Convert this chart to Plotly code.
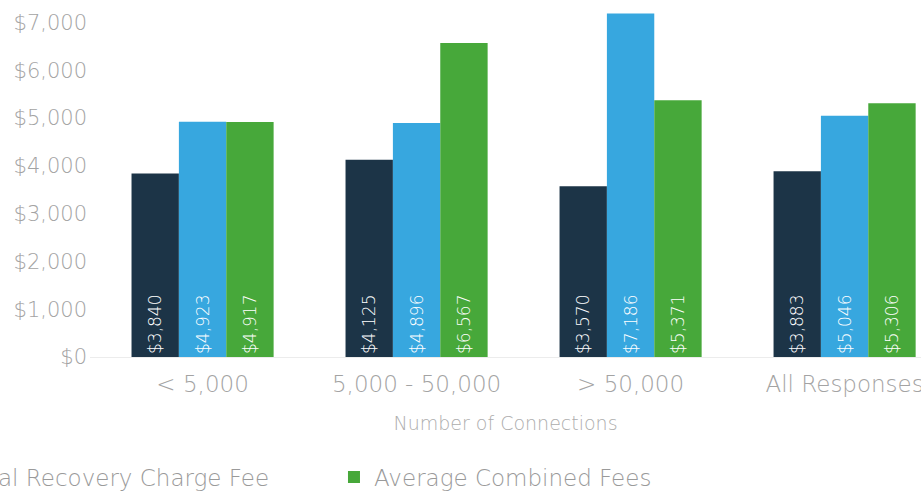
import plotly.graph_objects as go

categories = ["< 5,000", "5,000 - 50,000", "> 50,000", "All Responses"]
connection_fee = [3840, 4125, 3570, 3883]
capital_recovery_fee = [4923, 4896, 7186, 5046]
combined_fees = [4917, 6567, 5371, 5306]
series_names = ["Average Connection Fee", "Average Capital Recovery Charge Fee", "Average Combined Fees"]
y_ticks = [0, 1000, 2000, 3000, 4000, 5000, 6000, 7000]
y_tick_labels = ["$0", "$1,000", "$2,000", "$3,000", "$4,000", "$5,000", "$6,000", "$7,000"]
colors = ["#1c3447", "#37a7df", "#47a83a"]
legend_ids = ["legend", "legend2", "legend3"]

FONT = "DejaVu Sans"

fig = go.Figure()
for name, vals, col, lg in zip(series_names, [connection_fee, capital_recovery_fee, combined_fees], colors, legend_ids):
    fig.add_trace(go.Bar(
        x=categories, y=vals, name=name, marker_color=col, marker_line_width=0, legend=lg,
        text=[f"${v:,}" for v in vals], textposition="inside", textangle=-90,
        insidetextanchor="start", insidetextfont=dict(color="white", size=17, family=FONT, weight=200),
    ))

legend_font = dict(size=23, color="#9a9a9a", family=FONT, weight=200)
fig.update_layout(
    width=921, height=491,
    margin=dict(l=90, r=0, t=8, b=134, autoexpand=False),
    paper_bgcolor="white", plot_bgcolor="white",
    barmode="group", bargap=0.336, bargroupgap=0,
    font=dict(family=FONT, color="#a0a0a0", weight=200),
    showlegend=True,
    legend=dict(orientation="h", x=-0.409, xanchor="right", y=-0.344, yanchor="middle", font=legend_font),
    legend2=dict(orientation="h", x=0.2225, xanchor="right", y=-0.344, yanchor="middle", font=legend_font),
    legend3=dict(orientation="h", x=0.2936, xanchor="left", y=-0.344, yanchor="middle", font=legend_font),
)
fig.update_xaxes(range=[-0.526, 3.357], showgrid=False, showline=True, linecolor="#ececec",
                 ticks="", ticklabelstandoff=6, tickfont=dict(size=23, color="#a3a3a3", family=FONT, weight=200),
                 title=dict(text="Number of Connections", font=dict(size=19, color="#adadad", family=FONT, weight=200), standoff=21))
fig.update_yaxes(range=[0, 7300], showgrid=False, zeroline=False, tickmode="array",
                 tickvals=y_ticks, ticktext=y_tick_labels, ticks="", ticklabelstandoff=2,
                 tickfont=dict(size=21, color="#a3a3a3", family=FONT, weight=200))

fig.write_html("out.html", config={"displayModeBar": False},
               post_script="document.body.style.margin='0';")
